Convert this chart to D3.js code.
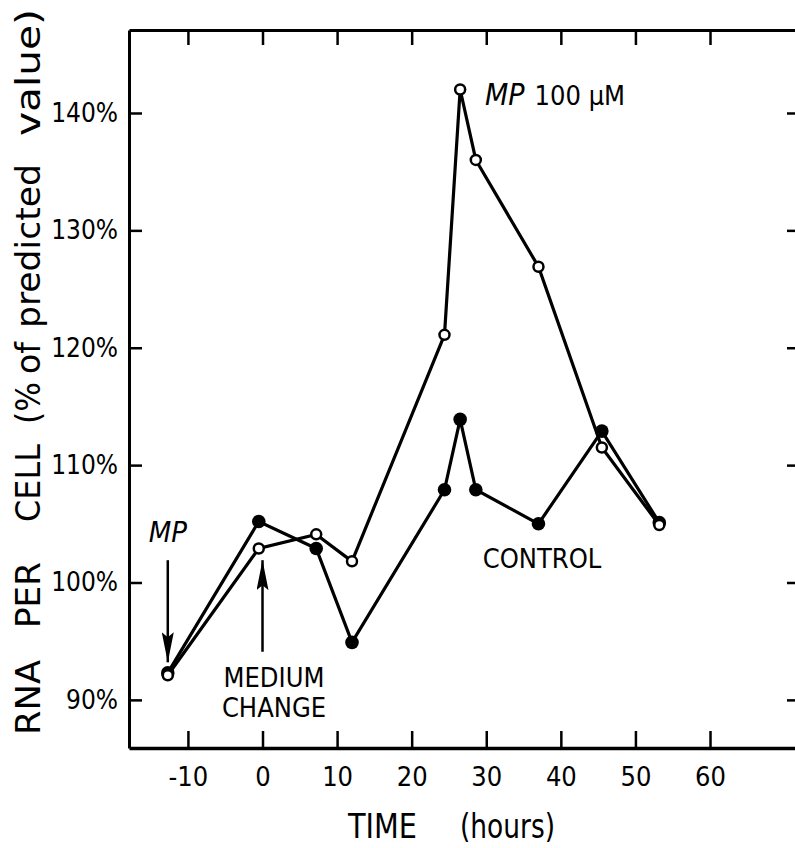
<!DOCTYPE html>
<html>
<head>
<meta charset="utf-8">
<script src="https://cdn.jsdelivr.net/npm/d3@7"></script>
<style>
  body { margin: 0; background: #fff; }
  svg text { font-family: "DejaVu Sans Condensed", "DejaVu Sans", sans-serif; fill: #000; }
</style>
</head>
<body>
<div id="chart"></div>
<script>
// Data
const hours = [-12.7, -0.5, 7.2, 12.0, 24.4, 26.5, 28.6, 37.0, 45.5, 53.2]
const mpValues = [92.1, 102.9, 104.1, 101.8, 121.1, 142.0, 136.0, 126.9, 111.5, 104.9]
const controlValues = [92.3, 105.2, 102.9, 94.9, 107.9, 113.9, 107.9, 105.0, 112.9, 105.1]
const xTicks = [-10, 0, 10, 20, 30, 40, 50, 60]
const yTicks = [90, 100, 110, 120, 130, 140]
const yTitleWords = ['RNA', 'PER', 'CELL', '(%', 'of', 'predicted', 'value)']

function draw() {
  // Dimensions
  const dimensions = {
    width: 795,
    height: 848,
    left: 129,
    top: 30,
    right: 801,
    bottom: 748,
  }

  const svg = d3.select('#chart')
    .append('svg')
    .attr('width', dimensions.width)
    .attr('height', dimensions.height)

  // Scales
  const xScale = d3.scaleLinear()
    .domain([-17.9, 72.2])
    .range([dimensions.left, dimensions.right])

  const yScale = d3.scaleLinear()
    .domain([85.9, 147.07])
    .range([dimensions.bottom, dimensions.top])

  // Axes (ticks point inward)
  const styleAxis = g => {
    g.select('.domain').attr('stroke', '#000').attr('stroke-width', 3)
    g.selectAll('.tick line').attr('stroke', '#000').attr('stroke-width', 2.5)
  }

  svg.append('g')
    .attr('transform', `translate(0, ${dimensions.bottom})`)
    .call(d3.axisBottom(xScale).tickValues(xTicks).tickSizeInner(-17).tickSizeOuter(0).tickPadding(19).tickFormat(d => String(d)))
    .call(styleAxis)
    .call(g => g.select('.domain').attr('stroke-width', 3.5))
    .selectAll('text')
    .attr('font-size', 27)

  svg.append('g')
    .attr('transform', `translate(0, ${dimensions.top})`)
    .call(d3.axisTop(xScale).tickValues(xTicks).tickSizeInner(-15).tickSizeOuter(0).tickFormat(''))
    .call(styleAxis)

  svg.append('g')
    .attr('transform', `translate(${dimensions.left}, 0)`)
    .call(d3.axisLeft(yScale).tickValues(yTicks).tickSizeInner(-13).tickSizeOuter(0).tickPadding(11).tickFormat(d => d + '%'))
    .call(styleAxis)
    .selectAll('text')
    .attr('font-size', 26)

  svg.append('g')
    .attr('transform', `translate(${dimensions.right}, 0)`)
    .call(d3.axisRight(yScale).tickValues(yTicks).tickSizeInner(-14).tickSizeOuter(0).tickFormat(''))
    .call(styleAxis)

  // Lines
  const line = d3.line()
    .x((d, i) => xScale(hours[i]))
    .y(d => yScale(d))

  svg.append('path')
    .datum(controlValues)
    .attr('d', line)
    .attr('fill', 'none')
    .attr('stroke', '#000')
    .attr('stroke-width', 3.2)

  svg.append('path')
    .datum(mpValues)
    .attr('d', line)
    .attr('fill', 'none')
    .attr('stroke', '#000')
    .attr('stroke-width', 3.2)

  svg.append('g')
    .selectAll('circle')
    .data(controlValues)
    .join('circle')
    .attr('cx', (d, i) => xScale(hours[i]))
    .attr('cy', d => yScale(d))
    .attr('r', 6.8)
    .attr('fill', '#000')

  svg.append('g')
    .selectAll('circle')
    .data(mpValues)
    .join('circle')
    .attr('cx', (d, i) => xScale(hours[i]))
    .attr('cy', d => yScale(d))
    .attr('r', 5)
    .attr('fill', '#fff')
    .attr('stroke', '#000')
    .attr('stroke-width', 2.5)

  // Arrows
  svg.append('defs')
    .append('marker')
    .attr('id', 'head')
    .attr('viewBox', '0 0 30 12')
    .attr('refX', 30)
    .attr('refY', 6)
    .attr('markerWidth', 30)
    .attr('markerHeight', 12)
    .attr('markerUnits', 'userSpaceOnUse')
    .attr('orient', 'auto')
    .append('path')
    .attr('d', 'M0,0 L30,6 L0,12 L5,6 Z')
    .attr('fill', '#000')

  const arrows = [
    { x: -12.7, from: 101.9, to: 93.2 },
    { x: 0, from: 94.1, to: 101.9 },
  ]

  svg.append('g')
    .selectAll('line')
    .data(arrows)
    .join('line')
    .attr('x1', d => xScale(d.x))
    .attr('x2', d => xScale(d.x))
    .attr('y1', d => yScale(d.from))
    .attr('y2', d => yScale(d.to))
    .attr('stroke', '#000')
    .attr('stroke-width', 2.5)
    .attr('marker-end', 'url(#head)')

  // Annotations
  svg.append('text')
    .attr('x', xScale(-12.7))
    .attr('y', 542)
    .attr('text-anchor', 'middle')
    .attr('font-size', 29)
    .attr('font-style', 'italic')
    .text('MP')

  svg.append('text')
    .attr('text-anchor', 'middle')
    .attr('font-size', 27)
    .call(t => t.append('tspan').attr('x', 274).attr('y', 687).text('MEDIUM'))
    .call(t => t.append('tspan').attr('x', 274).attr('y', 717).text('CHANGE'))

  svg.append('text')
    .attr('x', 542)
    .attr('y', 568)
    .attr('text-anchor', 'middle')
    .attr('font-size', 27)
    .text('CONTROL')

  svg.append('text')
    .attr('x', 485)
    .attr('y', 105)
    .call(t => t.append('tspan').attr('font-size', 30).attr('font-style', 'italic').text('MP'))
    .call(t => t.append('tspan').attr('font-size', 27).attr('dx', 10).text('100 μM'))

  // Axis titles
  const xTitle = [
    { text: 'TIME', x: 348, len: 69 },
    { text: '(hours)', x: 460, len: 95 },
  ]
  svg.append('g')
    .selectAll('text')
    .data(xTitle)
    .join('text')
    .attr('x', d => d.x)
    .attr('y', 838)
    .attr('font-size', 33)
    .attr('textLength', d => d.len)
    .attr('lengthAdjust', 'spacingAndGlyphs')
    .text(d => d.text)

  // word spans along the left edge (bottom end, length)
  const yTitleSpans = [[735, 75], [628, 66], [522, 78], [424, 42], [374, 32], [328, 164], [136, 127]]
  svg.append('g')
    .selectAll('text')
    .data(yTitleWords)
    .join('text')
    .attr('transform', (d, i) => `translate(40, ${yTitleSpans[i][0]}) rotate(-90)`)
    .attr('font-family', '"DejaVu Sans", sans-serif')
    .attr('font-size', 34)
    .attr('textLength', (d, i) => yTitleSpans[i][1])
    .attr('lengthAdjust', 'spacingAndGlyphs')
    .text(d => d)
}

draw()
</script>
</body>
</html>
